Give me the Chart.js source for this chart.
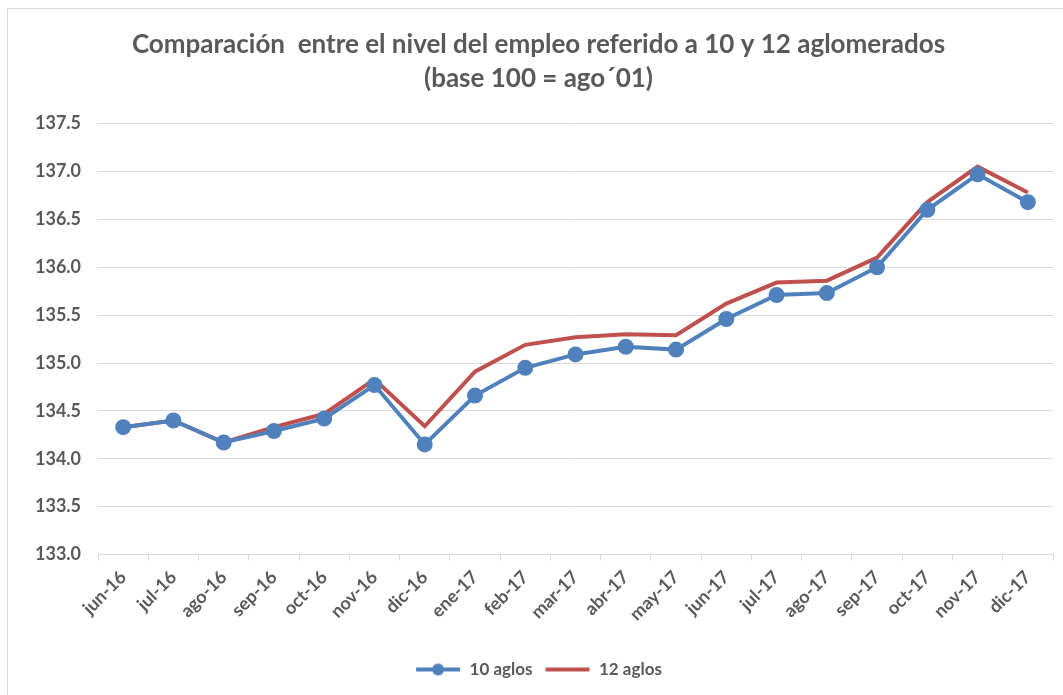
<!DOCTYPE html>
<html>
<head>
<meta charset="utf-8">
<script src="https://cdn.jsdelivr.net/npm/chart.js@4"></script>
<style>
  html, body { margin: 0; padding: 0; background: #fff; }
  #frame { position: absolute; left: 7px; top: 8px; width: 1070px; height: 700px; border: 1px solid #d9d9d9; }
  #wrap { position: absolute; left: 0; top: 0; width: 1063px; height: 695px; }
</style>
</head>
<body>
<div id="frame"></div>
<div id="wrap"><canvas id="grafico"></canvas></div>
<script>
const meses = ["jun-16", "jul-16", "ago-16", "sep-16", "oct-16", "nov-16", "dic-16", "ene-17", "feb-17", "mar-17",
  "abr-17", "may-17", "jun-17", "jul-17", "ago-17", "sep-17", "oct-17", "nov-17", "dic-17"];

const aglos10 = [134.33, 134.40, 134.17, 134.29, 134.42, 134.77, 134.15, 134.66, 134.95, 135.09,
  135.17, 135.14, 135.46, 135.71, 135.73, 136.00, 136.60, 136.97, 136.68];

const aglos12 = [134.33, 134.40, 134.17, 134.33, 134.47, 134.83, 134.34, 134.91, 135.19, 135.27,
  135.30, 135.29, 135.62, 135.84, 135.86, 136.10, 136.68, 137.05, 136.78];

const titulo = ["Comparación  entre el nivel del empleo referido a 10 y 12 aglomerados", "(base 100 = ago´01)"];

const AZUL = "#4f81bd";
const ROJO = "#c0504d";
const GRIS = "#595959";

/* =========================
  Iconos de la leyenda
========================= */
function iconoLeyenda(color, conPunto) {
  const c = document.createElement("canvas");
  c.width = 46;
  c.height = 14;
  const g = c.getContext("2d");
  g.strokeStyle = color;
  g.lineWidth = 4;
  g.beginPath();
  g.moveTo(1, 7);
  g.lineTo(45, 7);
  g.stroke();
  if (conPunto) {
    g.fillStyle = color;
    g.beginPath();
    g.arc(23, 7, 6, 0, Math.PI * 2);
    g.fill();
  }
  return c;
}

const iconos = [iconoLeyenda(AZUL, true), iconoLeyenda(ROJO, false)];

const ctx = document.getElementById("grafico");

new Chart(ctx, {
  type: "line",
  data: {
    labels: meses,
    datasets: [
      {
        label: "10 aglos",
        data: aglos10,
        borderColor: AZUL,
        backgroundColor: AZUL,
        borderWidth: 4,
        pointStyle: "circle",
        pointRadius: 6,
        pointHoverRadius: 6,
        tension: 0
      },
      {
        label: "12 aglos",
        data: aglos12,
        borderColor: ROJO,
        backgroundColor: ROJO,
        borderWidth: 4,
        pointRadius: 0,
        pointHoverRadius: 0,
        tension: 0
      }
    ]
  },
  options: {
    responsive: true,
    maintainAspectRatio: false,
    animation: false,
    layout: { padding: { top: 28, right: 4, left: 18, bottom: 7 } },
    plugins: {
      title: {
        display: true,
        text: titulo,
        color: GRIS,
        font: { family: "Lato", size: 26, weight: "bold", lineHeight: 1.3 },
        padding: { top: 0, bottom: 28 }
      },
      legend: {
        position: "bottom",
        labels: {
          usePointStyle: true,
          pointStyleWidth: 46,
          color: GRIS,
          padding: 12,
          font: { family: "Lato", size: 17, weight: "bold" },
          generateLabels: chart => chart.data.datasets.map((ds, i) => ({
            text: ds.label,
            pointStyle: iconos[i],
            fontColor: GRIS,
            datasetIndex: i,
            hidden: false
          }))
        }
      },
      tooltip: { enabled: false }
    },
    scales: {
      x: {
        offset: true,
        afterFit: scale => { scale.height += 18; },
        grid: { display: true, drawOnChartArea: false, drawTicks: true, tickLength: 6, offset: true, color: "#d9d9d9" },
        border: { color: "#d9d9d9", width: 1 },
        ticks: {
          color: GRIS,
          minRotation: 45,
          maxRotation: 45,
          padding: 6,
          font: { family: "Lato", size: 18, weight: "bold" }
        }
      },
      y: {
        min: 133,
        max: 137.5,
        grid: { color: "#d9d9d9", drawTicks: false, lineWidth: 1 },
        border: { display: false },
        ticks: {
          stepSize: 0.5,
          color: GRIS,
          padding: 17,
          font: { family: "Lato", size: 18, weight: "bold" },
          callback: v => v.toFixed(1)
        }
      }
    }
  }
});
</script>
</body>
</html>
